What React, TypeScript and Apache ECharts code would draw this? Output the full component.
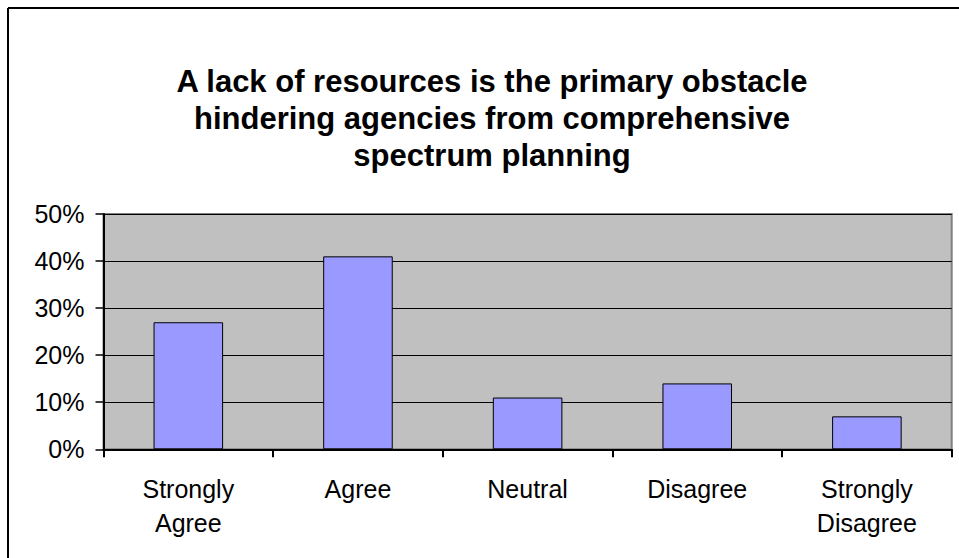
import React, { useEffect, useRef } from "react";
import * as echarts from "echarts";

const titleText =
  "A lack of resources is the primary obstacle\nhindering agencies from comprehensive\nspectrum planning";
const categories = ["Strongly\nAgree", "Agree", "Neutral", "Disagree", "Strongly\nDisagree"];
const percentValues = [27, 41, 11, 14, 7];
const yMin = 0;
const yMax = 50;
const yInterval = 10;

export default function App() {
  const ref = useRef<HTMLDivElement>(null);
  useEffect(() => {
    if (!ref.current) return;
    const chart = echarts.init(ref.current, null, { renderer: "svg" });
    const font = "Arial, 'Liberation Sans', Helvetica, sans-serif";
    chart.setOption({
      animation: false,
      backgroundColor: "#ffffff",
      title: {
        text: titleText,
        left: 487,
        top: 58,
        textAlign: "center",
        textStyle: {
          fontFamily: font,
          fontSize: 31,
          fontWeight: "bold",
          color: "#000000",
          lineHeight: 37,
        },
      },
      graphic: [
        {
          type: "line",
          shape: { x1: 8, y1: 8, x2: 8, y2: 558 },
          style: { stroke: "#000000", lineWidth: 2 },
        },
        {
          type: "line",
          shape: { x1: 8, y1: 8, x2: 959, y2: 8 },
          style: { stroke: "#000000", lineWidth: 2 },
        },
      ],
      grid: {
        left: 103.5,
        top: 214,
        right: 7.3,
        bottom: 108.7,
        show: true,
        backgroundColor: "#c0c0c0",
        borderColor: "#808080",
        borderWidth: 2,
        containLabel: false,
      },
      xAxis: {
        type: "category",
        data: categories,
        boundaryGap: true,
        axisLine: { show: true, lineStyle: { color: "#000000", width: 2 } },
        axisTick: {
          show: true,
          inside: false,
          length: 8,
          alignWithLabel: false,
          lineStyle: { color: "#000000", width: 2 },
        },
        axisLabel: {
          interval: 0,
          margin: 23,
          fontFamily: font,
          fontSize: 25,
          lineHeight: 34,
          color: "#000000",
        },
      },
      yAxis: {
        type: "value",
        min: yMin,
        max: yMax,
        interval: yInterval,
        axisLine: { show: true, lineStyle: { color: "#000000", width: 2 } },
        axisTick: {
          show: true,
          inside: false,
          length: 8,
          lineStyle: { color: "#000000", width: 1.5 },
        },
        axisLabel: {
          margin: 19,
          fontFamily: font,
          fontSize: 25,
          color: "#000000",
          formatter: "{value}%",
        },
        splitLine: { show: true, lineStyle: { color: "#000000", width: 1 } },
      },
      series: [
        {
          type: "bar",
          data: percentValues,
          barWidth: "41%",
          itemStyle: { color: "#9999ff", borderColor: "#000000", borderWidth: 1 },
        },
      ],
    });
    return () => chart.dispose();
  }, []);
  return (
    <div
      ref={ref}
      style={{ position: "fixed", left: 0, top: 0, width: 959, height: 558 }}
    />
  );
}
